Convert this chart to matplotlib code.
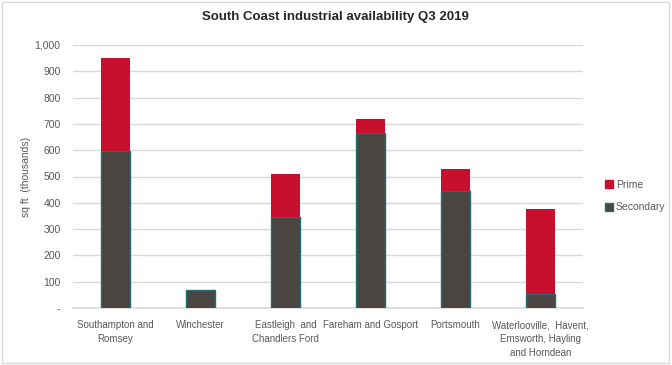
import numpy as np
import matplotlib
matplotlib.use("Agg")
import matplotlib.pyplot as plt
from matplotlib.patches import Rectangle
from matplotlib.lines import Line2D
from matplotlib.ticker import FuncFormatter

# --- DATA ---
locations = [
    "Southampton and\nRomsey",
    "Winchester",
    "Eastleigh  and\nChandlers Ford",
    "Fareham and Gosport",
    "Portsmouth",
    "Waterlooville,  Havent,\nEmsworth, Hayling\nand Horndean",
]
secondary = [597, 67, 346, 664, 445, 53]
prime = [353, 0, 162, 56, 84, 325]

PRIME_RED = "#C8102E"
SEC_GREY = "#4A4542"
SEC_EDGE = "#1F6E70"
TEXT_GREY = "#595959"
GRID_GREY = "#D9D9D9"

plt.rcParams["font.family"] = ["Liberation Sans", "DejaVu Sans"]

fig = plt.figure(figsize=(6.72, 3.65), dpi=100)
ax = fig.add_axes([73 / 672, 1 - 308 / 365, 510 / 672, 263 / 365])

x = np.arange(len(locations))
ax.bar(x, secondary, width=0.33, color=SEC_GREY, edgecolor=SEC_EDGE,
       linewidth=1.0, zorder=3)
ax.bar(x, prime, width=0.33, bottom=secondary, color=PRIME_RED,
       linewidth=0, zorder=3)

ax.set_xlim(-0.5, len(locations) - 0.5)
ax.set_ylim(0, 1000)
ax.set_yticks(np.arange(0, 1001, 100))
ax.yaxis.set_major_formatter(
    FuncFormatter(lambda v, p: "-" if v == 0 else f"{int(v):,}"))
ax.grid(axis="y", color=GRID_GREY, linewidth=1, zorder=0)
ax.set_xticks(x)
ax.set_xticklabels(locations, fontsize=7, color=TEXT_GREY, linespacing=1.5)
ax.tick_params(axis="both", length=0, labelsize=7.5, colors=TEXT_GREY)
ax.tick_params(axis="x", pad=9, labelsize=7)
ax.tick_params(axis="y", pad=9)

for side in ["top", "right", "left"]:
    ax.spines[side].set_visible(False)
ax.spines["bottom"].set_color(GRID_GREY)
ax.spines["bottom"].set_linewidth(1.2)

ax.set_ylabel("sq ft  (thousands)", fontsize=7.5, color=TEXT_GREY)
ax.yaxis.set_label_coords(-0.083, 0.5)

fig.text(335 / 672, 1 - 17 / 365, "South Coast industrial availability Q3 2019",
         ha="center", va="center", fontsize=9.5, fontweight="bold",
         color="#262626")

handles = [
    Line2D([], [], marker="s", linestyle="", markersize=6,
           markerfacecolor=PRIME_RED, markeredgecolor=PRIME_RED),
    Line2D([], [], marker="s", linestyle="", markersize=6,
           markerfacecolor=SEC_GREY, markeredgecolor=SEC_EDGE),
]
fig.legend(handles, ["Prime", "Secondary"], loc="center left",
           bbox_to_anchor=(594 / 672, 1 - 196 / 365), frameon=False,
           fontsize=7.5, labelcolor=TEXT_GREY, handletextpad=0.2,
           labelspacing=1.2, handlelength=1.0)

# chart border
fig.patches.append(Rectangle((0.003, 0.005), 0.992, 0.99, transform=fig.transFigure,
                             fill=False, edgecolor="#D9D9D9", linewidth=1))

fig.savefig("out.png", dpi=100)
